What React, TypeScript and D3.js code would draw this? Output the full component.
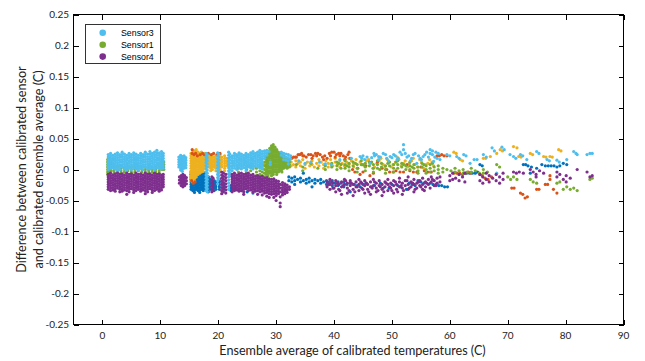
import React from "react";
import * as d3 from "d3";

// ---------- tick labels ----------
const xTicks = [0, 10, 20, 30, 40, 50, 60, 70, 80, 90];
const yTicks = [0.25, 0.2, 0.15, 0.1, 0.05, 0, -0.05, -0.1, -0.15, -0.2, -0.25];
const yTickLabels = ["0.25", "0.2", "0.15", "0.1", "0.05", "0", "-0.05", "-0.1", "-0.15", "-0.2", "-0.25"];
const legendNames = ["Sensor3", "Sensor1", "Sensor4"];

// ---------- data: each row is [x, y1, y2, ...] (ensemble avg C, difference C) ----------
const sensor3 = [
  [1.0,.024,.020,.016,.012,.008,.004,.000],[1.4,.026,.022,.018,.014,.010,.006,.002],[1.8,.023,.019,.015,.011,.007,.003],
  [2.2,.025,.021,.017,.013,.009,.005,.001],[2.6,.027,.023,.019,.015,.011,.007,.003,-.001],[3.0,.024,.020,.016,.012,.008,.004,.000],
  [3.4,.028,.024,.020,.016,.012,.008,.004],[3.8,.025,.021,.017,.013,.009,.005,.001],[4.2,.023,.019,.015,.011,.007,.003,-.001],
  [4.6,.026,.022,.018,.014,.010,.006,.002],[5.0,.024,.020,.016,.012,.008,.004,.000],[5.4,.027,.023,.019,.015,.011,.007,.003],
  [5.8,.025,.021,.017,.013,.009,.005,.001],[6.2,.023,.019,.015,.011,.007,.003,-.001],[6.6,.026,.022,.018,.014,.010,.006,.002],
  [7.0,.024,.020,.016,.012,.008,.004,.000],[7.4,.028,.024,.020,.016,.012,.008,.004],[7.8,.025,.021,.017,.013,.009,.005,.001],
  [8.2,.029,.025,.021,.017,.013,.009,.005,.001],[8.6,.026,.022,.018,.014,.010,.006,.002],[9.0,.028,.024,.020,.016,.012,.008,.004,.000],
  [9.4,.031,.027,.023,.019,.015,.011,.007,.003],[9.8,.027,.023,.019,.015,.011,.007,.003],[10.2,.029,.025,.021,.017,.013,.009,.005,.001],
  [10.5,.026,.022,.018,.014,.010,.006,.002],
  [13.2,.020,.016,.012,.008,.004],[13.5,.023,.019,.015,.011,.007,.003,-.001],[13.8,.021,.017,.013,.009,.005,.001,-.003],
  [14.1,.022,.018,.014,.010,.006,.002],[14.4,.019,.015,.011,.007,.003],
  [17.9,.026,.021,.016,.011,.006,.001,-.004,-.009,-.014,-.019,-.024,-.029,-.034],
  [18.1,.024,.019,.014,.009,.004,-.001,-.006,-.011,-.016,-.021,-.026,-.031,-.036],
  [19.9,.027,.022,.017,.012,.007,.002,-.003,-.008,-.013,-.018,-.023],
  [20.1,.025,.020,.015,.010,.005,.000,-.005,-.010,-.015],
  [21.8,.028,.023,.018,.013,.008,.003,-.002,-.007,-.012,-.017,-.022,-.027,-.032],
  [22.0,.025,.020,.015,.010,.005,.000,-.005,-.010],
  [22.4,.022,.018,.014,.010,.006,.002,-.002],[22.8,.026,.022,.018,.014,.010,.006,.002],[23.2,.024,.020,.016,.012,.008,.004,.000],
  [23.6,.027,.023,.019,.015,.011,.007,.003],[24.0,.025,.021,.017,.013,.009,.005,.001],[24.4,.023,.019,.015,.011,.007,.003],
  [24.8,.026,.022,.018,.014,.010,.006,.002,-.002],[25.2,.024,.020,.016,.012,.008,.004],[25.6,.027,.023,.019,.015,.011,.007,.003],
  [26.0,.029,.025,.021,.017,.013,.009,.005,.001],[26.4,.026,.022,.018,.014,.010,.006],[26.8,.028,.024,.020,.016,.012,.008,.004],
  [27.2,.031,.027,.023,.019,.015,.011,.007,.003],[27.6,.029,.025,.021,.017,.013,.009,.005,.001],[28.0,.030,.026,.022,.018],
  [28.4,.031,.027,.023],[28.8,.029],[29.0,.012,.008],[30.9,.028,.023],[31.3,.026,.021,.016],[31.7,.025,.020,.015],
  [32.1,.024,.019,.014,.009],[32.5,.022,.017],
  [33.9,.014],[35.0,.010],[36.0,.012],[37.5,.012],[38.5,.009],[39.5,.008],[41.0,.016],[43.0,.018],
  [44.5,.021],[44.8,.018],[45.0,.022],[45.3,.016],[45.7,.020],[46.2,.010],[46.5,.019],[46.9,.026],[47.0,.022],[47.3,.024],
  [47.7,.021,.016],[48.0,.020],[48.5,.026],[48.9,.024],[49.1,.018],[49.4,.014],[49.7,.021],[50.0,.019],[50.3,.024],
  [50.6,.022],[50.9,.016],[51.1,.018],[51.4,.028],[51.7,.024],[52.0,.040,.032],[52.3,.026],[52.6,.020],[52.9,.022],
  [53.2,.014],[53.4,.018],[53.7,.024],[54.0,.026],[54.3,.010],[54.6,.022],[54.9,.018],[55.1,.016],[55.4,.021],
  [55.7,.024],[56.0,.028],[56.3,.020],[56.6,.032,.026],[57.0,.030,.024],[57.2,.013],[57.4,.020],[57.6,.028],
  [57.8,.018],[58.0,.026],
  [58.3,.016],[59.5,.024],[60.0,.022],[61.2,.021],[61.6,.018],[62.4,.024],[62.8,.022],[63.5,.010],[64.2,.016],[64.7,.016],
  [65.8,.024],[66.3,.020],[67.3,.035],[67.7,.030],[68.1,-.006],[69.0,.036],[69.4,.032],[70.4,.024],[71.0,.021],[71.4,.018],
  [72.2,.024],[72.6,.022],[73.3,.016],[75.0,.029],[75.4,.026],[76.8,.016],[77.2,.014],[78.5,.015],[78.9,.012],[80.2,.016],
  [81.4,.029],[81.8,.026],[82.0,.024],[83.7,.024],[84.2,.026],[84.6,.026],
];

const sensor1 = [
  [0.9,.016,.012,.008,.004,.000,-.004,-.008],[1.2,.018,.014,.010,.006,.002,-.002,-.006],[1.5,.014,.010,.006,.002,-.002],
  [2.0,.006,.002,-.002,-.006],[2.6,.004,.000,-.004],[3.2,.006,.002,-.002,-.006],[3.8,.004,.000,-.004],
  [4.4,.006,.002,-.002],[5.0,.004,.000,-.004,-.008],[5.6,.004,.000,-.004],[6.2,.006,.002,-.002],
  [6.8,.004,.000,-.004],[7.4,.004,.000,-.004],[8.0,.006,.002,-.002,-.006],[8.6,.004,.000,-.004],
  [9.2,.004,.000,-.004],[9.8,.010,.006,.002,-.002,-.006],[10.3,.016,.012,.008,.004,.000],[10.6,.012,.008,.004,.000],
  [23.5,.002,-.004],[24.9,.006,.000,-.006],[25.6,.004,-.002],[26.6,.002,-.004,-.010],[27.2,.004,-.002,-.008,-.014],
  [27.6,.008,.002,-.004,-.010,-.016],[28.0,.012,.006,.000,-.006,-.012],
  [28.3,.020,.016,.012,.008,.004,.000,-.004,-.008],
  [28.6,.026,.022,.018,.014,.010,.006,.002,-.002,-.006,-.010],
  [28.9,.034,.030,.026,.022,.018,.014,.010,.006,.002,-.002,-.006],
  [29.2,.038,.034,.030,.026,.022,.018,.014,.010,.006,.002,-.002,-.006,-.010],
  [29.5,.040,.036,.032,.028,.024,.020,.016,.012,.008,.004,.000,-.004,-.008],
  [29.8,.036,.032,.028,.024,.020,.016,.012,.008,.004,.000,-.004],
  [30.1,.032,.028,.024,.020,.016,.012,.008,.004,.000,-.004,-.008],
  [30.4,.028,.024,.020,.016,.012,.008,.004,.000,-.004],
  [30.7,.026,.022,.018,.014,.010,.006,.002,-.002],
  [31.0,.024,.020,.016,.012,.008,.004,.000,-.004],
  [31.3,.022,.018,.014,.010,.006,.002],[31.6,.020,.016,.012,.008,.004],[31.9,.018,.014,.010,.006,.002],
  [32.3,.016,.012,.008,.004],
  [33.5,.008],[34.6,.004,-.002],[36.0,.010],[37.2,.002],[38.5,.006,.000],[39.6,.010,.004],
  [40.5,.012,.006,.000],[40.8,.010],[41.2,.008,.002],[41.9,.014,.008,.002],[42.2,.006],[42.6,.010,.004,-.002],
  [43.3,.012,.006],[43.7,.010],[44.0,.008,.002,-.004],[44.7,.014,.008],[45.0,.008],[45.4,.010,.004,-.002],
  [46.1,.012,.006],[46.5,.012],[46.8,.008,.002,-.004],[47.5,.014,.008,.002],[47.9,.000],[48.2,.010,.004],
  [48.9,.006,.000,-.006],[49.3,.010],[49.6,.012,.006],[50.3,.008,.002,-.004],[50.7,.012],[51.0,.014,.008,.002],
  [51.7,.010,.004],[52.0,.008],[52.4,.006,.000],[53.1,.012,.006,.000],[53.5,.004],[53.8,.008,.002],
  [54.5,.004,-.002,-.006],[55.2,.010,.004],[55.5,.008],[55.9,.006,.000,-.006],[56.6,.008,.002,-.004],[57.0,.010],
  [57.3,.004,-.002],[58.0,.006,.000,-.006],
  [58.8,.002,-.004],[59.5,.000],[60.2,-.002],[60.9,.002,-.004],[61.6,-.002,-.008],[62.3,.000,-.006],[63.0,-.004],
  [63.7,.002,-.004],[64.4,-.002],[65.1,-.006],[65.8,.000,-.006],[66.5,-.004],[68.1,.008],[68.6,.004],[70.0,-.012],
  [70.5,-.016],[71.0,-.012],[71.6,-.016],[73.9,-.016],[74.4,-.020],[75.0,-.022],[78.5,-.022],[79.0,-.020],
  [79.6,-.032],[80.2,-.028],[80.8,-.032],[81.4,-.030],[82.0,-.034],[84.2,-.016],[84.6,-.014],
];

const sensor4 = [
  [1.0,-.008,-.012,-.016,-.020,-.024,-.028,-.032],[1.4,-.006,-.010,-.014,-.018,-.022,-.026,-.030,-.034],
  [1.8,-.009,-.013,-.017,-.021,-.025,-.029,-.033],[2.2,-.007,-.011,-.015,-.019,-.023,-.027,-.031,-.035],
  [2.6,-.006,-.010,-.014,-.018,-.022,-.026,-.030],[3.0,-.008,-.012,-.016,-.020,-.024,-.028,-.032,-.036],
  [3.4,-.007,-.011,-.015,-.019,-.023,-.027,-.031,-.035],[3.8,-.009,-.013,-.017,-.021,-.025,-.029,-.033],
  [4.2,-.006,-.010,-.014,-.018,-.022,-.026,-.030,-.034,-.040],[4.6,-.008,-.012,-.016,-.020,-.024,-.028,-.032,-.036],
  [5.0,-.007,-.011,-.015,-.019,-.023,-.027,-.031],[5.4,-.009,-.013,-.017,-.021,-.025,-.029,-.033,-.037],
  [5.8,-.006,-.010,-.014,-.018,-.022,-.026,-.030,-.034],[6.2,-.008,-.012,-.016,-.020,-.024,-.028,-.032],
  [6.6,-.007,-.011,-.015,-.019,-.023,-.027,-.031,-.035],[7.0,-.009,-.013,-.017,-.021,-.025,-.029,-.033],
  [7.4,-.006,-.010,-.014,-.018,-.022,-.026,-.030,-.034,-.039],[7.8,-.008,-.012,-.016,-.020,-.024,-.028,-.032,-.036],
  [8.2,-.007,-.011,-.015,-.019,-.023,-.027,-.031],[8.6,-.009,-.013,-.017,-.021,-.025,-.029,-.033,-.037],
  [9.0,-.006,-.010,-.014,-.018,-.022,-.026,-.030,-.034],[9.4,-.008,-.012,-.016,-.020,-.024,-.028,-.032],
  [9.8,-.007,-.011,-.015,-.019,-.023,-.027,-.031,-.035],[10.2,-.009,-.013,-.017,-.021,-.025,-.029,-.033],
  [10.5,-.008,-.012,-.016,-.020,-.024,-.028],
  [13.3,-.012,-.017,-.022],[13.6,-.010,-.014,-.018,-.022,-.026],[13.9,-.008,-.012,-.016,-.020,-.024,-.028],
  [14.2,-.010,-.014,-.018,-.022,-.026],[14.5,-.013,-.018,-.023],
  [18.9,-.012,-.017,-.022,-.027,-.032,-.036],[19.1,-.014,-.019,-.024,-.029,-.034],
  [20.6,-.004,-.009,-.014,-.019,-.024,-.029,-.034,-.039],[20.9,-.006,-.011,-.016,-.021,-.026,-.031,-.036],
  [21.3,-.008,-.013,-.018,-.023,-.028,-.033,-.038],
  [22.4,-.008,-.012,-.016,-.020,-.024,-.028,-.032,-.036],[22.8,-.006,-.010,-.014,-.018,-.022,-.026,-.030,-.034],
  [23.2,-.009,-.013,-.017,-.021,-.025,-.029,-.033],[23.6,-.007,-.011,-.015,-.019,-.023,-.027,-.031,-.035],
  [24.0,-.006,-.010,-.014,-.018,-.022,-.026,-.030,-.034],[24.4,-.008,-.012,-.016,-.020,-.024,-.028,-.032,-.036,-.040],
  [24.8,-.007,-.011,-.015,-.019,-.023,-.027,-.031],[25.2,-.006,-.010,-.014,-.018,-.022,-.026,-.030,-.034],
  [25.6,-.009,-.013,-.017,-.021,-.025,-.029,-.033],[26.0,-.008,-.012,-.016,-.020,-.024,-.028,-.032,-.036],
  [26.4,-.011,-.015,-.019,-.023,-.027,-.031,-.035],[26.8,-.010,-.014,-.018,-.022,-.026,-.030,-.034,-.040],
  [27.2,-.012,-.016,-.020,-.024,-.028,-.032,-.036],[27.6,-.011,-.015,-.019,-.023,-.027,-.031,-.035,-.041],
  [28.0,-.014,-.018,-.022,-.026,-.030,-.034,-.038],[28.4,-.013,-.017,-.021,-.025,-.029,-.033,-.037,-.043],
  [28.8,-.015,-.019,-.023,-.027,-.031,-.035,-.039,-.045],[29.2,-.016,-.020,-.024,-.028,-.032,-.036,-.040],
  [29.6,-.015,-.019,-.023,-.027,-.031,-.035,-.039,-.045],[30.0,-.018,-.022,-.026,-.030,-.034,-.038,-.042,-.050],
  [30.4,-.019,-.023,-.027,-.031,-.035,-.039],[30.7,-.024,-.030,-.036,-.044,-.054,-.060],
  [31.1,-.021,-.025,-.029,-.033,-.037,-.041],[31.5,-.023,-.027,-.031,-.035,-.039],[31.9,-.025,-.029,-.033,-.037],
  [32.3,-.028,-.032],
  [38.8,-.020,-.028],[39.0,-.024],[39.3,-.016,-.024,-.032],[39.6,-.020],[39.8,-.022,-.030],[40.0,-.030],
  [40.3,-.018,-.026,-.036],[40.6,-.022],[40.8,-.024,-.032],[41.0,-.034],[41.3,-.020,-.028,-.040],[41.6,-.026],
  [41.8,-.016,-.024],[42.0,-.018],[42.3,-.022,-.030,-.038],[42.6,-.034],[42.8,-.018,-.026],[43.0,-.022],
  [43.3,-.024,-.032,-.042],[43.6,-.036],[43.8,-.020,-.028],[44.0,-.028],[44.3,-.016,-.024,-.034],[44.6,-.020],
  [44.8,-.022,-.030],[45.0,-.032],[45.3,-.018,-.026,-.038],[45.6,-.022],[45.8,-.024,-.032],[46.0,-.036],
  [46.3,-.020,-.028,-.040],[46.6,-.030],[46.8,-.016,-.026],[47.0,-.020],[47.3,-.022,-.030,-.036],[47.6,-.034],
  [47.8,-.018,-.026],[48.0,-.028],[48.3,-.024,-.032,-.042],[48.6,-.036],[48.8,-.020,-.028],[49.0,-.022],
  [49.3,-.016,-.024,-.034],[49.6,-.028],[49.8,-.022,-.030],[50.0,-.034],[50.3,-.018,-.026,-.038],[50.6,-.020],
  [50.8,-.024,-.032],[51.0,-.036],[51.3,-.014,-.020,-.028],[51.6,-.026],[51.8,-.022,-.030,-.040],[52.0,-.034],
  [52.3,-.018,-.026],[52.6,-.018],[52.8,-.012,-.024,-.032],[53.0,-.030],[53.3,-.020,-.028],[53.6,-.022],
  [53.8,-.016,-.024,-.036],[54.0,-.032],[54.3,-.022,-.030],[54.6,-.020],[54.8,-.018,-.026],[55.0,-.028],
  [55.3,-.014,-.024,-.032],[55.6,-.034],[55.8,-.020,-.028],[56.0,-.022],[56.3,-.016,-.024],[56.6,-.030],
  [56.8,-.012,-.020],[57.0,-.016],[57.3,-.018,-.026],[57.6,-.026],[57.8,-.014,-.022],
  [58.3,-.012,-.020],[60.0,-.010,-.018],[60.5,-.006,-.016],[61.0,-.014],[61.6,-.008,-.018],[62.2,-.012],
  [62.6,-.006,-.020],[65.2,-.008,-.018],[65.7,-.012,-.022],[66.3,-.006,-.016],[66.8,-.010,-.020],[67.4,-.014],
  [68.0,-.008,-.018],[68.6,-.012,-.022],[69.2,-.006,-.016],[71.0,-.004],[71.5,-.006],[72.0,-.004],[72.7,-.006],
  [73.9,.000],[74.4,-.004],[74.9,-.008,-.012],[75.5,-.002],[76.2,-.006],[78.5,-.004,-.012],[79.0,-.008],
  [79.6,-.016],[80.1,-.010,-.020],[80.8,-.014],[82.0,.000],[83.7,-.004],[84.2,-.012],[84.6,-.010],
];

const sensorBlue = [
  [15.3,-.004,-.008,-.012,-.016,-.020,-.024,-.028,-.032],[15.6,-.006,-.010,-.014,-.018,-.022,-.026,-.030,-.034],
  [15.9,-.005,-.009,-.013,-.017,-.021,-.025,-.029,-.033,-.037],[16.2,-.004,-.008,-.012,-.016,-.020,-.024,-.028,-.032],
  [16.5,-.006,-.010,-.014,-.018,-.022,-.026,-.030,-.034],[16.8,-.005,-.009,-.013,-.017,-.021,-.025,-.029,-.033,-.037],
  [17.1,-.004,-.008,-.012,-.016,-.020,-.024,-.028,-.032],[17.4,-.006,-.010,-.014,-.018,-.022,-.026,-.030,-.034],
  [17.7,-.005,-.009,-.013,-.017,-.021,-.025,-.029,-.033],[18.3,-.012,-.016,-.020,-.024,-.028,-.032,-.036],
  [18.6,-.016,-.020,-.024,-.028,-.032],[19.3,-.018,-.022,-.026,-.030,-.034],[19.6,-.020,-.024,-.028,-.032],
  [20.2,-.016,-.020,-.024,-.028,-.032],[21.0,-.024,-.028,-.032],[22.2,-.026,-.030,-.034],[22.9,-.028,-.032],
  [24.0,-.034],[25.0,-.036],[26.0,-.038],[27.5,-.024],
  [32.2,-.012,-.018],[32.7,-.014,-.020],[33.2,-.012,-.018,-.024],[33.7,-.016],[34.2,-.014,-.020],[34.7,-.006,-.018],
  [35.2,-.016,-.022],[35.7,-.014,-.020],[36.2,-.018,-.028],[36.7,-.016,-.022],[37.2,-.018],[37.7,-.016,-.022],
  [38.2,-.020],[38.7,-.018,-.024],[39.2,-.020],[39.7,-.018,-.026],[40.2,-.022],[40.7,-.020,-.026],[41.2,-.022],
  [41.7,-.020,-.028],[42.2,-.024],[42.8,-.022,-.036],
  [43.5,-.024],[44.0,-.026],[44.5,-.028],[45.0,-.024],[45.5,-.022],[46.5,-.028],[47.0,-.026],[48.0,-.022],
  [48.5,-.030],[49.5,-.030],[50.0,-.024],[51.0,-.026],[51.5,-.028],[52.5,-.032],[53.0,-.022],[53.5,-.024],
  [54.0,-.026],[54.5,-.018],[55.0,-.020],[55.5,-.022],[56.6,-.022],[57.1,-.024],[57.6,-.024],[58.1,-.026],
  [58.6,-.026],[59.1,-.028],[59.6,-.028],
  [62.4,-.006],[62.9,-.006],[63.4,-.006],[63.9,-.006],[64.4,-.006],[64.8,-.004],[65.2,.008],[65.6,.006],
  [72.7,.008],[73.1,.008],[73.5,.006],[73.9,-.006],[74.1,.004],[75.0,.002],[75.9,.008],[76.5,.006],[77.0,.006],
  [77.5,.006],[78.0,.006],[78.5,.004],[79.0,.006],[79.6,.010],[80.2,.008],
];

const sensorOrange = [
  [15.3,.026,.022,.018,.014,.010,.006,.002,-.002,-.006,-.010,-.014,-.018],
  [15.6,.028,.024,.020,.016,.012,.008,.004,.000,-.004,-.008,-.012,-.016,-.020],
  [15.9,.030,.026,.022,.018,.014,.010,.006,.002,-.002,-.006,-.010,-.014,-.018],
  [16.2,.032,.028,.024,.020,.016,.012,.008,.004,.000,-.004,-.008,-.012],
  [16.5,.028,.024,.020,.016,.012,.008,.004,.000,-.004,-.008],
  [16.8,.026,.022,.018,.014,.010,.006,.002,-.002,-.006],
  [17.1,.028,.024,.020,.016,.012,.008,.004,.000,-.004],
  [17.4,.025,.021,.017,.013,.009,.005,.001,-.003],
  [17.7,.026,.022,.018,.014,.010,.006,.002],
  [18.4,.024,.020,.016,.012,.008,.004],[18.7,.022,.018,.014,.010,.006,.002,-.002],
  [19.0,.024,.020,.016,.012,.008,.004,.000],[19.3,.020,.016,.012,.008,.004],
  [19.6,.022,.018,.014,.010,.006,.002,-.002],[20.3,.024,.020,.016,.012,.008,.004,.000,-.004],
  [20.6,.020,.016,.012,.008,.004],[21.1,.022,.018,.014,.010,.006,.002,-.002],[21.5,.018,.014,.010,.006],
  [22.6,.010],[23.3,.006],[24.6,.014],[25.3,.008],[26.3,.004],[27.4,.010],[27.9,.008],
  [32.6,.012,.006],[33.0,.008],[33.4,.014,.004],[33.8,.010],[34.2,.006,.012],[34.6,.016],[35.0,.008,.002],
  [35.4,.012],[35.8,.006],[36.2,.014,.008],[36.6,.004],[37.0,.010],[37.4,.016,.006],[37.8,.012],[38.2,.008,.002],
  [38.6,.014],[39.0,.010,.004],[39.4,.016],[39.8,.006],[40.2,.012,.018],[40.6,.008],[41.0,.014,.004],[41.4,.010],
  [41.8,.016,.006],[42.2,.012],[42.6,.008,.018],[43.0,.014],[43.4,.010,.004],[43.8,.016],
  [44.5,.012],[44.8,.008],[45.2,.006],[45.6,.014],[46.0,.016],[46.3,.010],[46.7,.002],[47.0,.004],[47.4,.010],
  [47.8,.014],[48.1,.018],[48.5,.008],[48.8,.004],[49.2,.016],[49.5,.012],[49.9,.004],[50.2,.008],[50.6,.012],
  [50.9,.020],[51.2,.016],[51.6,.006],[52.0,.010],[52.3,.014],[52.7,.004],[53.0,.010],[53.4,.014],[53.7,.018],
  [54.0,.008],[54.4,.004],[54.8,.016],[55.1,.012],[55.5,.002],[55.8,.008],[56.2,.010],[56.5,.016],[56.9,.012],[57.2,.006],
  [60.7,.028],[61.1,.026],[61.8,.016],[62.2,.014],[65.8,.018],[66.2,.018],[67.0,.021],[68.1,.026],[68.7,.032],
  [69.1,.030],[71.0,.037],[71.6,.035],[71.9,.021],[72.3,.020],[73.9,.026],[74.3,.024],[76.2,.021],[76.6,.020],
  [77.3,.021],[77.7,.020],[78.8,.032],[79.2,.030],
];

const sensorRed = [
  [15.5,.026,.032],[15.8,.024],[16.1,.026],[16.4,.022],[16.9,.024],[17.3,.026],[17.6,.024],[18.3,.026],[18.8,.024],
  [19.2,.026],[19.8,.024],[20.3,.026],[15.4,-.018],[15.7,-.022],[16.0,-.020],
  [32.7,.018],[33.0,.020],[33.3,.020],[33.5,.020],[33.8,.024],[34.1,.024],[34.4,.026],[34.6,.022],[34.8,.022],
  [35.2,.020],[35.6,.024],[36.0,.024],[36.2,.018],[36.4,.022],[36.8,.026],[37.0,.022],[37.2,.026],[37.6,.024],
  [38.0,.020],[38.2,.016],[38.4,.022],[38.8,.018],[39.2,.026],[39.4,.022],[39.6,.028],[40.0,.028],[40.2,.020],
  [40.4,.024],[40.8,.026],[41.0,.022],[41.2,.026],[41.6,.022],[41.9,.016],[42.0,.020],[42.4,.024],[42.6,.028],[42.8,.018],
  [43.2,.000],[43.6,-.004],[44.1,.002],[44.5,-.008],[45.0,-.004],[45.5,.006],[46.2,-.010],[46.8,-.006],[47.5,.012],
  [48.3,.002],[49.1,.000],[49.6,-.004],[50.2,-.004],[50.7,-.002],[51.4,-.004],[52.0,-.004],[52.6,.008],[53.1,-.002],
  [53.7,-.004],[54.3,-.004],[55.0,.004],[55.6,-.002],[56.2,-.004],[56.8,-.004],
  [57.8,.022],[58.2,.022],[58.6,.024],[59.0,.022],[59.5,.022],[60.7,-.006],[61.2,-.006],[61.7,-.006],[62.2,-.008],
  [62.7,-.006],[63.2,-.004],[63.6,-.006],[65.2,-.008],[65.6,-.010],[66.1,-.014],[66.6,-.016],[67.2,-.012],
  [70.7,-.030],[71.1,-.030],[72.2,-.038],[72.6,-.040],[73.0,-.046],[73.4,-.044],[75.0,-.032],[75.4,-.032],
  [76.5,-.024],[76.9,-.024],[77.3,-.016,-.010],[77.9,-.032],[78.5,-.038],
];

// drawing order (later on top)
const seriesList = [
  { name: "S2", rows: sensorBlue, color: "#0072BD" },
  { name: "S5", rows: sensorOrange, color: "#EDB120" },
  { name: "S6", rows: sensorRed, color: "#D95319" },
  { name: "Sensor1", rows: sensor1, color: "#77AC30" },
  { name: "Sensor3", rows: sensor3, color: "#4DBEEE" },
  { name: "Sensor4", rows: sensor4, color: "#7E2F8E" },
];
const legendColors = ["#4DBEEE", "#77AC30", "#7E2F8E"];

const W = 645, H = 361;
const L = 73.5, R = 623.5, T = 14.5, B = 324.5;

export default function App() {
  const x = d3.scaleLinear().domain([-5, 90]).range([L, R]);
  const y = d3.scaleLinear().domain([-0.25, 0.25]).range([B, T]);
  const font = "Lato, 'Open Sans', sans-serif";

  return (
    <svg width={W} height={H} style={{ position: "absolute", left: 0, top: 0, background: "#fff" }}>
      {seriesList.map((s) => (
        <g key={s.name} fill={s.color}>
          {s.rows.flatMap((row, i) =>
            row.slice(1).map((v, j) => (
              <circle key={i + "-" + j} cx={x(row[0])} cy={y(v)} r={1.6} />
            ))
          )}
        </g>
      ))}

      <rect x={L} y={T} width={R - L} height={B - T} fill="none" stroke="#000" strokeWidth={1} shapeRendering="crispEdges" />
      {xTicks.map((t) => (
        <g key={"x" + t} stroke="#000" shapeRendering="crispEdges">
          <line x1={Math.round(x(t)) + 0.5} x2={Math.round(x(t)) + 0.5} y1={B} y2={B - 5} />
          <line x1={Math.round(x(t)) + 0.5} x2={Math.round(x(t)) + 0.5} y1={T} y2={T + 5} />
        </g>
      ))}
      {yTicks.map((t) => (
        <g key={"y" + t} stroke="#000" shapeRendering="crispEdges">
          <line x1={L} x2={L + 5} y1={Math.round(y(t)) + 0.5} y2={Math.round(y(t)) + 0.5} />
          <line x1={R} x2={R - 5} y1={Math.round(y(t)) + 0.5} y2={Math.round(y(t)) + 0.5} />
        </g>
      ))}
      {xTicks.map((t) => (
        <text key={"xl" + t} x={x(t)} y={339} textAnchor="middle" fontFamily={font} fontSize={10} fill="#222">
          {String(t)}
        </text>
      ))}
      {yTicks.map((t, i) => (
        <text key={"yl" + t} x={69} y={y(t) + 3.5} textAnchor="end" fontFamily={font} fontSize={10} fill="#222">
          {yTickLabels[i]}
        </text>
      ))}

      <text x={(L + R) / 2 + 4} y={355} textAnchor="middle" fontFamily={font} fontSize={12.6} fill="#222">
        Ensemble average of calibrated temperatures (C)
      </text>
      <text transform={`translate(26,${(T + B) / 2}) rotate(-90)`} textAnchor="middle" fontFamily={font} fontSize={12.6} fill="#222">
        Difference between calibrated sensor
      </text>
      <text transform={`translate(42.5,${(T + B) / 2}) rotate(-90)`} textAnchor="middle" fontFamily={font} fontSize={12.6} fill="#222">
        and calibrated ensemble average (C)
      </text>

      <rect x={85.5} y={24.5} width={75} height={39} fill="#fff" stroke="#000" strokeWidth={0.8} shapeRendering="crispEdges" />
      {legendNames.map((n, i) => (
        <g key={n}>
          <circle cx={102.7} cy={32.8 + i * 11.9} r={3.3} fill={legendColors[i]} />
          <text x={121} y={35.9 + i * 11.9} fontFamily="'Liberation Sans', Arial, sans-serif" fontSize={8.8} fill="#000">
            {n}
          </text>
        </g>
      ))}
    </svg>
  );
}
